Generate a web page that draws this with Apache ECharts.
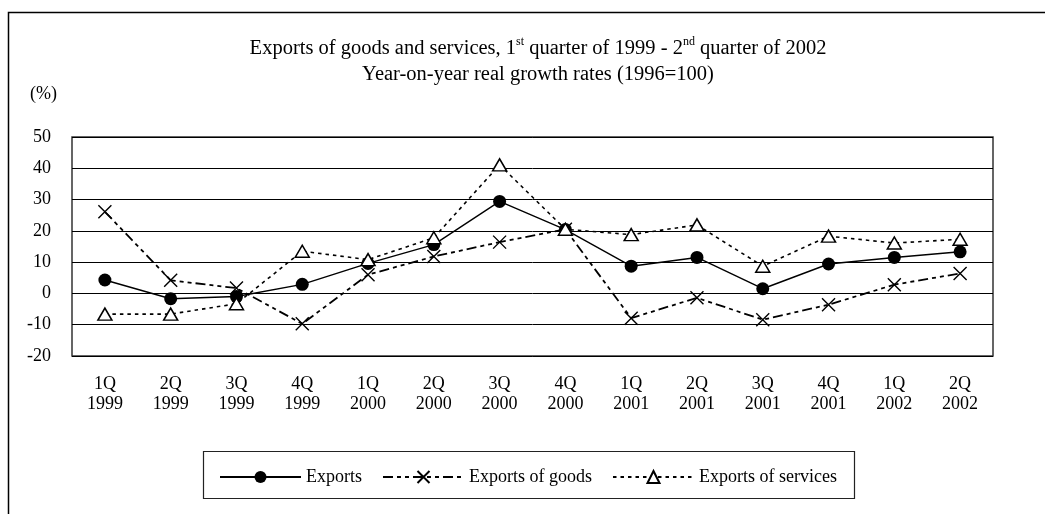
<!DOCTYPE html>
<html>

<head>
    <meta http-equiv="Content-Type" content="text/html; charset=utf-8">
    <title>Exports of goods and services</title>
    <script src="https://cdn.jsdelivr.net/npm/echarts@6/dist/echarts.min.js"></script>
    <style>
        html, body { margin: 0; padding: 0; background: #fff; overflow: hidden; }
        #chart { width: 1045px; height: 514px; }
    </style>
</head>

<body>
    <div id="chart"></div>
    <script>
    var quarters = ["1Q\n1999", "2Q\n1999", "3Q\n1999", "4Q\n1999",
        "1Q\n2000", "2Q\n2000", "3Q\n2000", "4Q\n2000",
        "1Q\n2001", "2Q\n2001", "3Q\n2001", "4Q\n2001",
        "1Q\n2002", "2Q\n2002"];
    var exportsTotal = [4.3, -1.7, -1.0, 2.9, 9.6, 15.6, 29.4, 20.4, 8.7, 11.5, 1.5, 9.4, 11.5, 13.3];
    var exportsGoods = [26.1, 4.2, 1.7, -9.7, 6.0, 11.8, 16.4, 20.5, -7.9, -1.4, -8.4, -3.6, 2.8, 6.4];
    var exportsServices = [-6.6, -6.6, -3.3, 13.5, 10.8, 17.8, 41.1, 20.5, 18.8, 21.9, 8.7, 18.3, 16.1, 17.3];
    var yMin = -20, yMax = 50, yStep = 10;

    var serif = "'Liberation Serif', 'Times New Roman', serif";
    var crossSymbol = "path://M0,0L10,10M10,0L0,10";

    var chart = echarts.init(document.getElementById("chart"));

    function getOption() {
        return {
            animation: false,
            backgroundColor: "#fff",
            textStyle: { fontFamily: serif, color: "#000" },
            title: [{
                    text: "Exports of goods and services, 1{sup|st} quarter of 1999 - 2{sup|nd} quarter of 2002",
                    left: 533,
                    top: 31,
                    textAlign: "center",
                    textStyle: {
                        fontFamily: serif,
                        fontWeight: "normal",
                        fontSize: 20.5,
                        color: "#000",
                        lineHeight: 26,
                        rich: {
                            sup: { fontFamily: serif, fontSize: 12, color: "#000", verticalAlign: "top", lineHeight: 26 }
                        }
                    }
                },
                {
                    text: "Year-on-year real growth rates (1996=100)",
                    left: 533,
                    top: 59,
                    textAlign: "center",
                    textStyle: { fontFamily: serif, fontWeight: "normal", fontSize: 20.5, color: "#000" }
                }
            ],
            graphic: [{
                    type: "rect",
                    silent: true,
                    shape: { x: 8.5, y: 12.5, width: 1100, height: 600 },
                    style: { fill: "none", stroke: "#000", lineWidth: 1.5 }
                },
                {
                    type: "rect",
                    silent: true,
                    shape: { x: 203.5, y: 451.5, width: 651, height: 47 },
                    style: { fill: "none", stroke: "#222", lineWidth: 1.2 }
                }
            ],
            legend: {
                left: 214,
                top: 463,
                itemWidth: 81,
                itemHeight: 15,
                itemGap: 20,
                textStyle: { fontFamily: serif, fontSize: 18, color: "#000" },
                data: ["Exports", "Exports of goods", "Exports of services"]
            },
            grid: {
                left: 72,
                right: 52,
                top: 137,
                bottom: 158,
                show: true,
                borderColor: "#333",
                borderWidth: 1.5
            },
            xAxis: {
                type: "category",
                data: quarters,
                boundaryGap: true,
                axisLine: { show: false },
                axisTick: { show: false },
                axisLabel: {
                    interval: 0,
                    margin: 18,
                    fontFamily: serif,
                    fontSize: 18,
                    lineHeight: 20,
                    color: "#000"
                }
            },
            yAxis: {
                type: "value",
                min: yMin,
                max: yMax,
                interval: yStep,
                name: "(%)",
                nameLocation: "end",
                nameGap: 34,
                nameTextStyle: { fontFamily: serif, fontSize: 18, color: "#000", align: "right", padding: [0, 15, 0, 0] },
                axisLine: { show: false },
                axisTick: { show: false },
                axisLabel: { margin: 21, fontFamily: serif, fontSize: 18, color: "#000" },
                splitLine: { lineStyle: { color: "#000", width: 1 } }
            },
            series: [{
                    name: "Exports",
                    type: "line",
                    data: exportsTotal,
                    symbol: "circle",
                    symbolSize: 13,
                    lineStyle: { color: "#000", width: 1.4, type: "solid" },
                    itemStyle: { color: "#000", borderColor: "#000", borderWidth: 0 }
                },
                {
                    name: "Exports of goods",
                    type: "line",
                    data: exportsGoods,
                    symbol: crossSymbol,
                    symbolSize: 13,
                    lineStyle: { color: "#000", width: 1.8, type: [10, 4, 4, 4, 4, 4] },
                    itemStyle: { color: "#fff", borderColor: "#000", borderWidth: 1.4 }
                },
                {
                    name: "Exports of services",
                    type: "line",
                    data: exportsServices,
                    symbol: "triangle",
                    symbolSize: [14, 12],
                    lineStyle: { color: "#000", width: 1.6, type: [3.5, 4] },
                    itemStyle: { color: "#fff", borderColor: "#000", borderWidth: 1.5 }
                }
            ]
        };
    }

    chart.setOption(getOption());
    </script>
</body>

</html>
